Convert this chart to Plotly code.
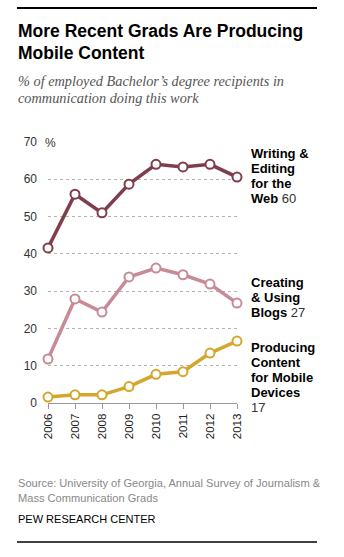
import plotly.graph_objects as go

years = [2006, 2007, 2008, 2009, 2010, 2011, 2012, 2013]
writing = [41.6, 56.0, 51.0, 58.7, 64.0, 63.3, 64.0, 60.6]
blogs = [11.8, 27.9, 24.4, 33.8, 36.2, 34.4, 31.9, 26.8]
mobile = [1.6, 2.2, 2.2, 4.4, 7.7, 8.4, 13.4, 16.6]
y_ticks = [0, 10, 20, 30, 40, 50, 60, 70]

series = [
    (["Writing &", "Editing", "for the", "Web"], "60", False, writing, "#7f3e4c"),
    (["Creating", "& Using", "Blogs"], "27", False, blogs, "#c68b95"),
    (["Producing", "Content", "for Mobile", "Devices"], "17", True, mobile, "#d5a62c"),
]

W, H = 344, 557
L, R, T, B = 48, 107, 142, 154
ph = H - T - B
pw = W - L - R

def py(p):
    return (H - B - p) / ph

def px(p):
    return (p - L) / pw

fig = go.Figure()
for name, val, own, ys, col in series:
    fig.add_trace(go.Scatter(
        x=years, y=ys, mode="lines+markers",
        line=dict(color=col, width=3.5),
        marker=dict(symbol="circle", size=9, color="white", line=dict(color=col, width=2)),
        cliponaxis=False, showlegend=False, hoverinfo="skip"))

sans = "Liberation Sans, Arial, sans-serif"
ann = []

def line_ann(x, y, text, size, color, family=sans):
    ann.append(dict(xref="paper", yref="paper", x=px(x), y=py(y), xanchor="left",
                    yanchor="middle", align="left", showarrow=False, text=text,
                    font=dict(family=family, size=size, color=color)))

label_pos = [153, 282, 347]
for (name, val, own, ys, col), ypix in zip(series, label_pos):
    lines = ["<b>" + s + "</b>" for s in name]
    num = "<span style='color:#333'>" + val + "</span>"
    if own:
        lines.append(num)
    else:
        lines[-1] = lines[-1] + " " + num
    for i, s in enumerate(lines):
        line_ann(249, ypix + 15 * i, s, 13, "#000")

line_ann(16, 31, "<b>More Recent Grads Are Producing</b>", 17.5, "#000")
line_ann(16, 53, "<b>Mobile Content</b>", 17.5, "#000")
line_ann(16, 81, "<i>% of employed Bachelor\u2019s degree recipients in</i>", 14.3, "#555",
         "Liberation Serif, Georgia, serif")
line_ann(16, 98, "<i>communication doing this work</i>", 14.3, "#555",
         "Liberation Serif, Georgia, serif")
line_ann(43, 143, "%", 12, "#333")
line_ann(16, 483, "Source: University of Georgia, Annual Survey of Journalism &amp;", 11.1, "#888")
line_ann(16, 498, "Mass Communication Grads", 11.1, "#888")
line_ann(16, 519, "PEW RESEARCH CENTER", 11, "#000")

# top rule drawn as a filled annotation box
ann.append(dict(xref="paper", yref="paper", x=px(17), y=py(8), xanchor="left", yanchor="middle",
                showarrow=False, text=" ", width=300, height=2, bgcolor="#000",
                borderpad=0, borderwidth=0, font=dict(size=1, color="#000")))

shapes = [
    dict(type="line", xref="paper", yref="paper", x0=px(17), x1=px(317), y0=py(542), y1=py(542),
         line=dict(color="#000", width=1.5), layer="above"),
]

fig.update_layout(
    width=W, height=H, margin=dict(l=L, r=R, t=T, b=B),
    paper_bgcolor="white", plot_bgcolor="white",
    annotations=ann, shapes=shapes,
    xaxis=dict(range=[2006, 2013], tickvals=years, ticktext=[str(y) for y in years],
               tickangle=-90, showgrid=False, zeroline=False,
               showline=True, linecolor="#999", linewidth=1,
               ticks="outside", ticklen=5, tickcolor="#999",
               tickfont=dict(family=sans, size=11.5, color="#222")),
    yaxis=dict(range=[0, 70], tickvals=y_ticks, showgrid=True, gridcolor="#b5b5b5",
               griddash="dot", gridwidth=1, zeroline=False, showline=False, ticks="",
               ticklabelstandoff=10,
               tickfont=dict(family=sans, size=12, color="#333")),
)

fig.write_html("out.html", config={"displayModeBar": False})
